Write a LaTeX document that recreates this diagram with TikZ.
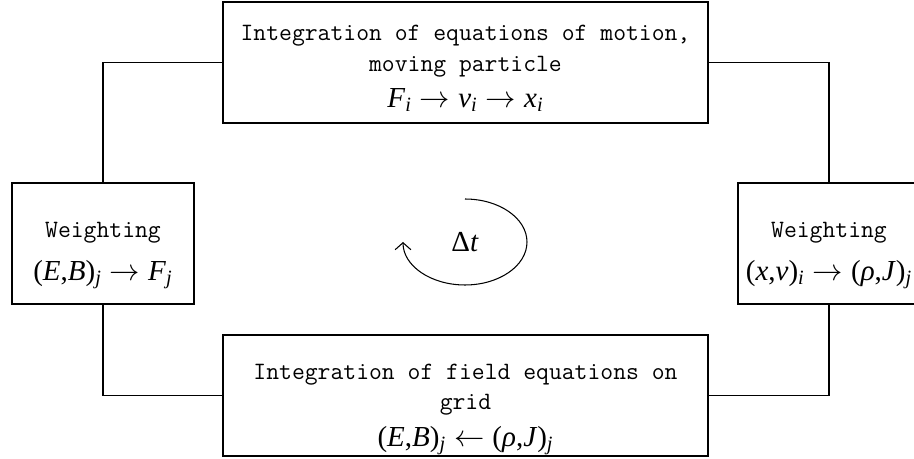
\documentclass[tikz,border=0pt]{standalone}
\usepackage{fontspec}
\usetikzlibrary{arrows.meta,positioning}
\newfontfamily\mathtimes{Liberation Serif}
\newcommand{\mt}[1]{{\mathtimes\fontsize{16.5}{17.6}\selectfont #1}}
\newcommand{\lo}[1]{\textsubscript{\itshape #1}}
\newcommand{\lift}[1]{\rule{0pt}{#1}}
\newcommand{\ra}{\;$\rightarrow$\;}
\newcommand{\la}{\;$\leftarrow$\;}

\begin{document}
\begin{tikzpicture}[
  x=0.02cm, y=-0.02cm,
  box/.style={rectangle, draw, line width=0.7pt, minimum height=2.42cm, inner sep=0pt, align=center, font=\fontsize{14.2}{17.6}\selectfont\ttfamily},
  wide/.style={box, minimum width=9.7cm},
  narrow/.style={box, minimum width=3.64cm},
  link/.style={line width=0.7pt},
  arrow/.style={-{Straight Barb[length=4pt,width=9pt]}, line width=0.6pt}
]
  \useasboundingbox (0,0) rectangle (914,459);
  \node[wide] (motion) at (465.5,62.5) {\lift{15.5pt}Integration of equations of motion,\\moving particle\\[3pt]\mt{\textit{F}\lo{i}\ra\textit{v}\lo{i}\ra\textit{x}\lo{i}}};
  \node[narrow] (weightL) at (103,243.5) {\lift{22.5pt}Weighting\\[7pt]\mt{(\textit{E},\textit{B})\lo{j}\ra\textit{F}\lo{j}}};
  \node[narrow] (weightR) at (829,243.5) {\lift{22.5pt}Weighting\\[7pt]\mt{(\textit{x},\textit{v})\lo{i}\ra(\textit{ρ},\textit{J})\lo{j}}};
  \node[wide] (field) at (465.5,395.5) {\lift{24.5pt}Integration of field equations on\\grid\\[3pt]\mt{(\textit{E},\textit{B})\lo{j}\la(\textit{ρ},\textit{J})\lo{j}}};
  \node (dt) at (465,242) {\mt{Δ\textit{t}}};
  \draw[link] (weightL.north) |- (motion.west);
  \draw[link] (motion.east) -| (weightR.north);
  \draw[link] (weightL.south) |- (field.west);
  \draw[link] (weightR.south) |- (field.east);
  \draw[arrow] (dt.center) ++(0,0.86cm) arc[start angle=90, end angle=-180, x radius=1.24cm, y radius=0.86cm];
\end{tikzpicture}
\end{document}
